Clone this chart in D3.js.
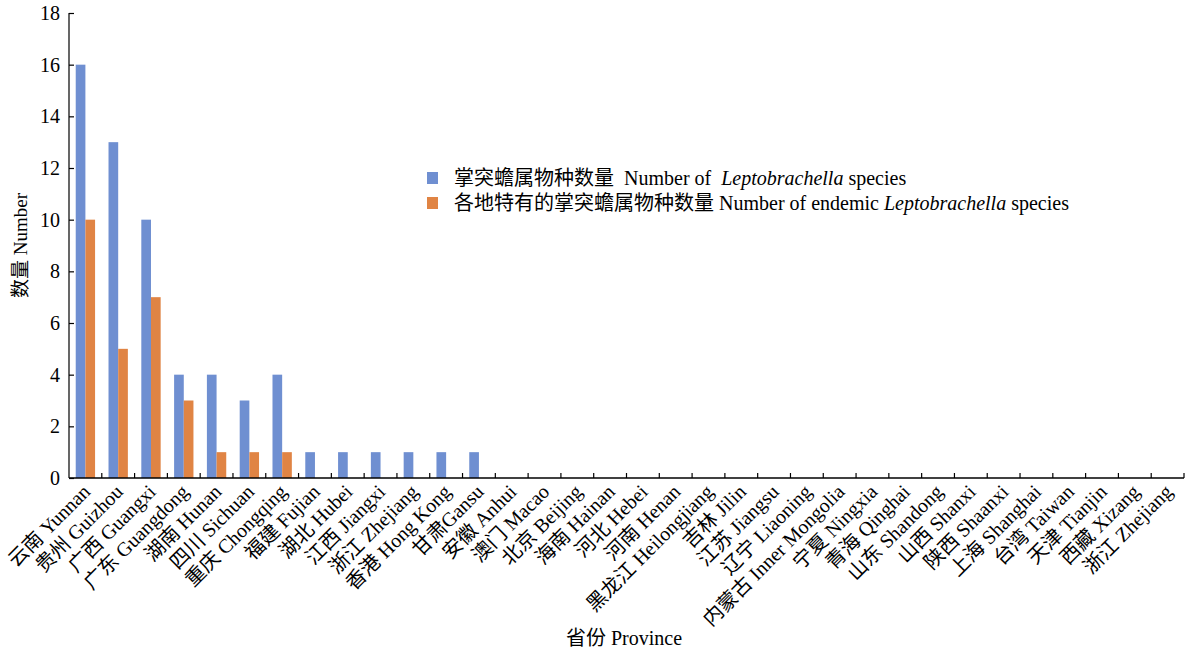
<!DOCTYPE html>
<html>
<head>
<meta charset="utf-8">
<script src="https://cdn.jsdelivr.net/npm/d3@7"></script>
<style>
  body { margin: 0; background: #fff; }
  text { font-family: "Liberation Serif", "Noto Sans CJK SC", serif; fill: #000; }
</style>
</head>
<body>
<div id="chart"></div>
<script>
/**
 * CONSTANTS AND GLOBALS
 * */
const width = 1193,
  height = 653,
  margin = { top: 13, bottom: 175, left: 69, right: 9 };

// province labels along the x axis (Chinese + English)
const provinces = [
  "云南 Yunnan", "贵州 Guizhou", "广西 Guangxi", "广东 Guangdong", "湖南 Hunan",
  "四川 Sichuan", "重庆 Chongqing", "福建 Fujian", "湖北 Hubei", "江西 Jiangxi",
  "浙江 Zhejiang", "香港 Hong Kong", "甘肃Gansu", "安徽 Anhui", "澳门 Macao",
  "北京 Beijing", "海南 Hainan", "河北 Hebei", "河南 Henan", "黑龙江 Heilongjiang",
  "吉林 Jilin", "江苏 Jiangsu", "辽宁 Liaoning", "内蒙古 Inner Mongolia", "宁夏 Ningxia",
  "青海 Qinghai", "山东 Shandong", "山西 Shanxi", "陕西 Shaanxi", "上海 Shanghai",
  "台湾 Taiwan", "天津 Tianjin", "西藏 Xizang", "浙江 Zhejiang"
];

// number of Leptobrachella species per province
const speciesCount = [16, 13, 10, 4, 4, 3, 4, 1, 1, 1, 1, 1, 1,
  0, 0, 0, 0, 0, 0, 0, 0, 0, 0, 0, 0, 0, 0, 0, 0, 0, 0, 0, 0, 0];

// number of endemic Leptobrachella species per province
const endemicCount = [10, 5, 7, 3, 1, 1, 1, 0, 0, 0, 0, 0, 0,
  0, 0, 0, 0, 0, 0, 0, 0, 0, 0, 0, 0, 0, 0, 0, 0, 0, 0, 0, 0, 0];

const yTicks = [0, 2, 4, 6, 8, 10, 12, 14, 16, 18];

const seriesNames = ["total", "endemic"];
const colors = { total: "#6f8fd1", endemic: "#e08444" };

let svg, xScale, xSub, yScale;

// table built from the arrays above
const data = provinces.map((p, i) => ({
  idx: i,
  name: p,
  total: speciesCount[i],
  endemic: endemicCount[i]
}));

init();

function init() {
  svg = d3.select("#chart")
    .append("svg")
    .attr("width", width)
    .attr("height", height);

  // SCALES
  xScale = d3.scaleBand()
    .domain(data.map(d => d.idx))
    .range([margin.left, width - margin.right])
    .paddingInner(0.41)
    .paddingOuter(0.205);

  xSub = d3.scaleBand()
    .domain(seriesNames)
    .range([0, xScale.bandwidth()]);

  yScale = d3.scaleLinear()
    .domain([0, 18])
    .range([height - margin.bottom, margin.top]);

  // BARS
  const group = svg.selectAll(".group")
    .data(data)
    .join("g")
    .attr("class", "group")
    .attr("transform", d => `translate(${xScale(d.idx)},0)`);

  group.selectAll("rect")
    .data(d => seriesNames.map(k => ({ key: k, value: d[k] })))
    .join("rect")
    .attr("x", d => xSub(d.key))
    .attr("width", xSub.bandwidth())
    .attr("y", d => yScale(d.value))
    .attr("height", d => yScale(0) - yScale(d.value))
    .attr("fill", d => colors[d.key]);

  // X AXIS (ticks at category boundaries, pointing up)
  const step = xScale.step();
  const x0 = margin.left;
  const xAxisG = svg.append("g")
    .attr("transform", `translate(0,${yScale(0)})`);

  xAxisG.append("line")
    .attr("x1", x0)
    .attr("x2", width - margin.right)
    .attr("stroke", "#000")
    .attr("stroke-width", 1.3);

  xAxisG.selectAll(".xtick")
    .data(d3.range(1, provinces.length + 1))
    .join("line")
    .attr("class", "xtick")
    .attr("x1", i => x0 + i * step)
    .attr("x2", i => x0 + i * step)
    .attr("y1", 0)
    .attr("y2", -5)
    .attr("stroke", "#000")
    .attr("stroke-width", 1.2);

  xAxisG.selectAll(".xlabel")
    .data(data)
    .join("text")
    .attr("class", "xlabel")
    .attr("text-anchor", "end")
    .attr("font-size", 20)
    .attr("transform", d => {
      const cx = xScale(d.idx) + xScale.bandwidth() / 2 + 6;
      return `translate(${cx},${15}) rotate(-45)`;
    })
    .text(d => d.name);

  // Y AXIS (ticks pointing right)
  const yAxis = d3.axisRight(yScale)
    .tickValues(yTicks)
    .tickSize(5)
    .tickFormat("");

  svg.append("g")
    .attr("transform", `translate(${margin.left},0)`)
    .call(yAxis)
    .call(g => g.selectAll("path, line").attr("stroke", "#000").attr("stroke-width", 1.2))
    .call(g => g.select(".domain").attr("d", `M0,${yScale(18)}V${yScale(0)}`));

  svg.selectAll(".ylabel")
    .data(yTicks)
    .join("text")
    .attr("class", "ylabel")
    .attr("x", margin.left - 9)
    .attr("y", d => yScale(d))
    .attr("dy", "0.35em")
    .attr("text-anchor", "end")
    .attr("font-size", 20)
    .text(d => d);

  // AXIS TITLES
  svg.append("text")
    .attr("transform", `translate(27,${(yScale(0) + yScale(18)) / 2}) rotate(-90)`)
    .attr("text-anchor", "middle")
    .attr("font-size", 19)
    .text("数量 Number");

  svg.append("text")
    .attr("x", 624)
    .attr("y", 645)
    .attr("text-anchor", "middle")
    .attr("font-size", 20)
    .text("省份 Province");

  // LEGEND
  const legend = [
    { key: "total", pre: "掌突蟾属物种数量  Number of  ", post: " species" },
    { key: "endemic", pre: "各地特有的掌突蟾属物种数量 Number of endemic ", post: " species" }
  ];

  const lg = svg.selectAll(".legend")
    .data(legend)
    .join("g")
    .attr("class", "legend")
    .attr("transform", (d, i) => `translate(427,${178 + i * 25})`);

  lg.append("rect")
    .attr("x", 0)
    .attr("y", -6)
    .attr("width", 11)
    .attr("height", 12)
    .attr("fill", d => colors[d.key]);

  const lt = lg.append("text")
    .attr("x", 27)
    .attr("dy", "0.35em")
    .attr("font-size", 20)
    .style("white-space", "pre");
  lt.append("tspan").text(d => d.pre);
  lt.append("tspan").attr("font-style", "italic").text("Leptobrachella");
  lt.append("tspan").text(d => d.post);
}
</script>
</body>
</html>
